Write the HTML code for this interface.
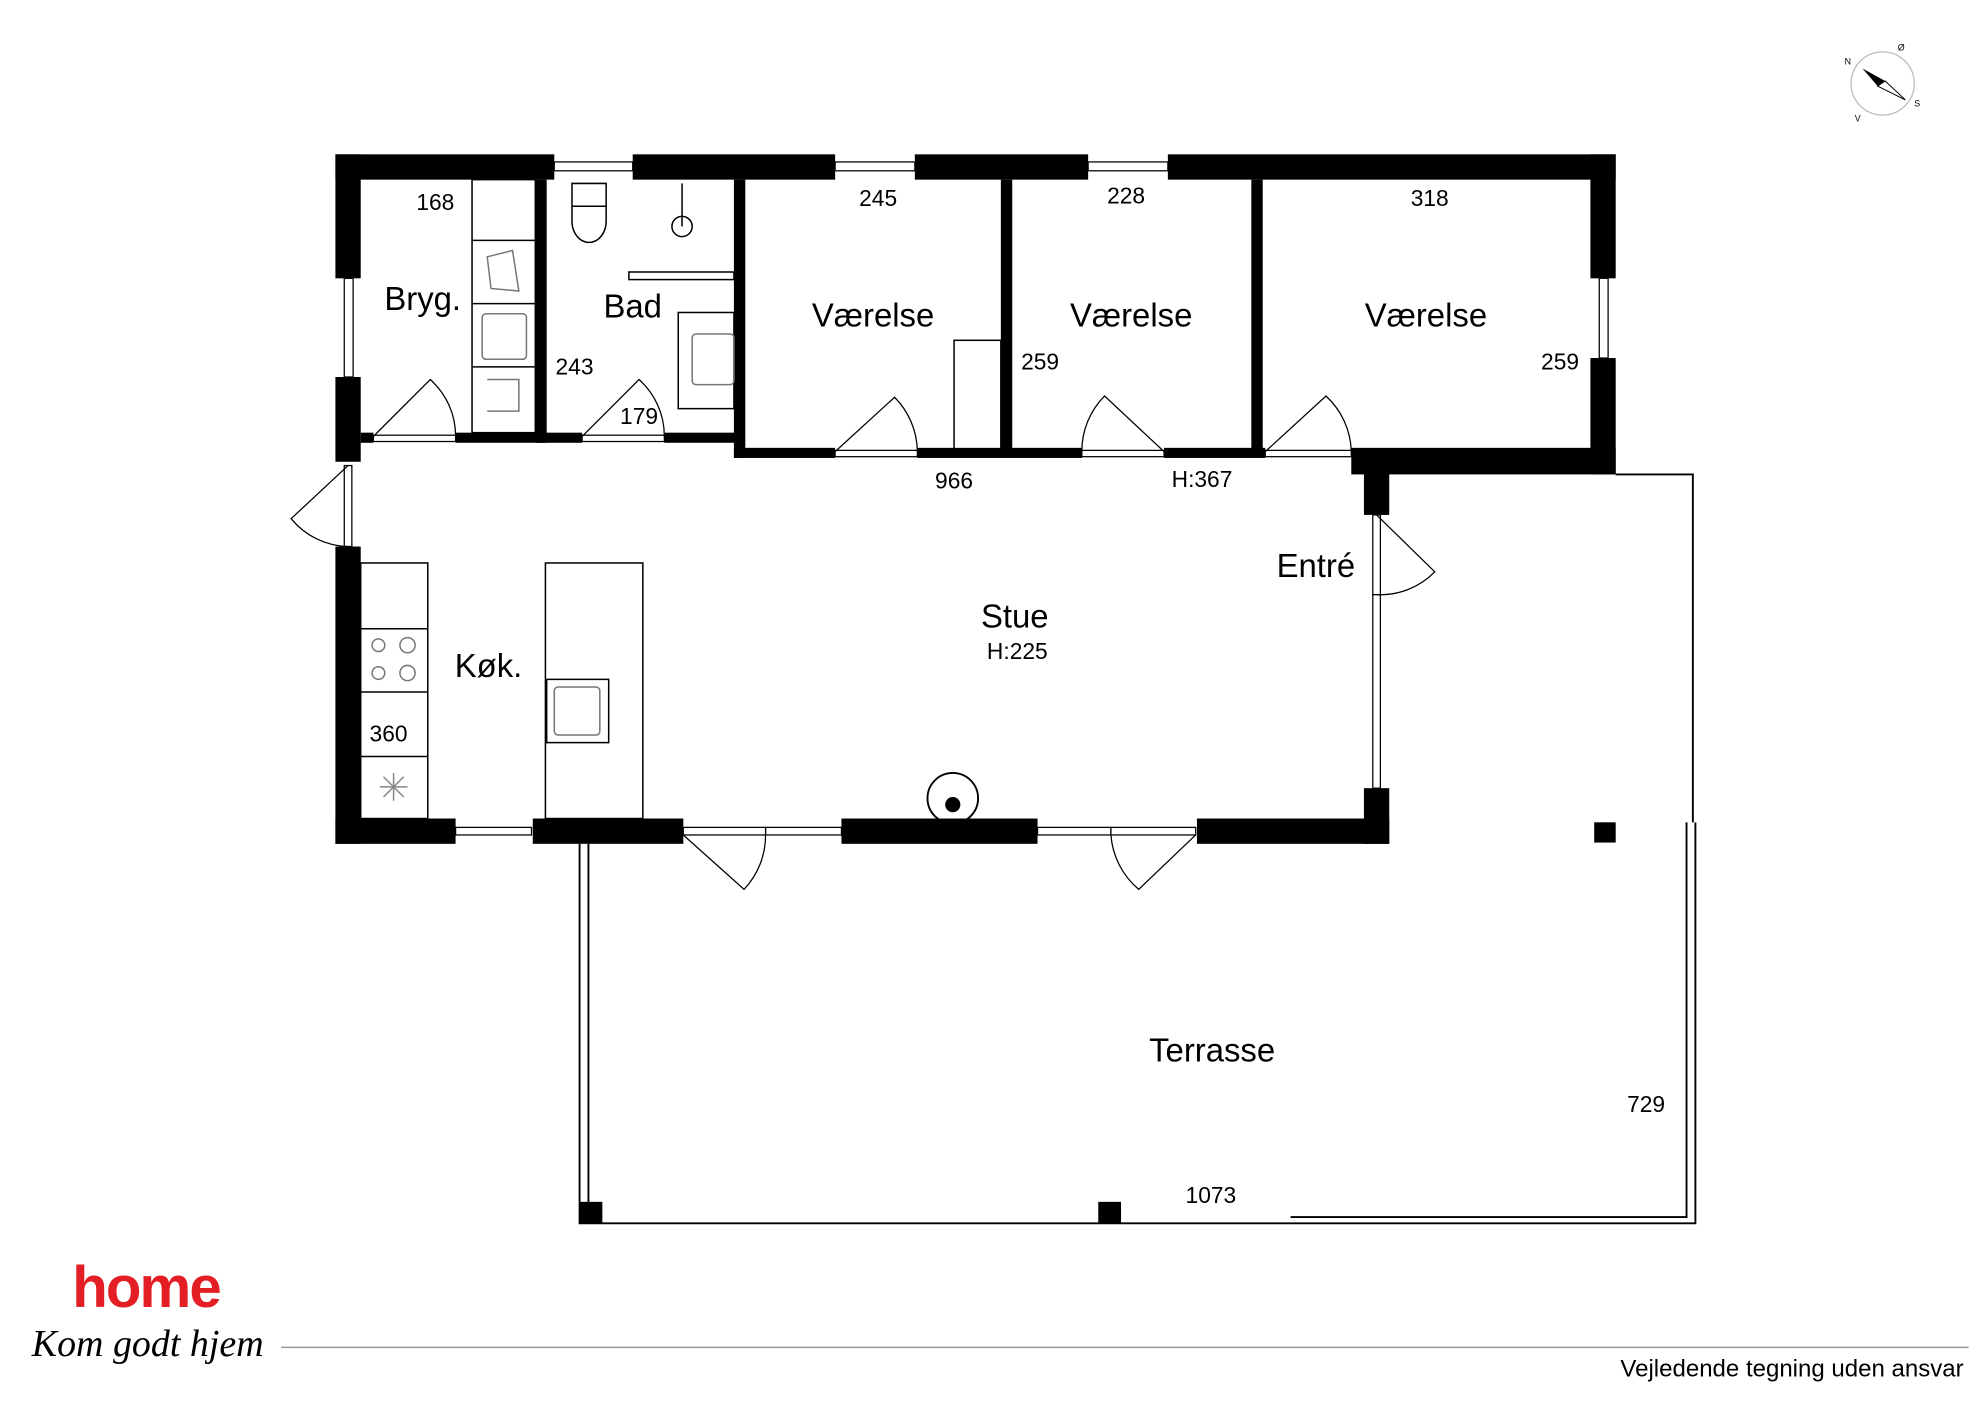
<!DOCTYPE html>
<html><head><meta charset="utf-8"><style>
html,body{margin:0;padding:0;background:#fff;}
svg{display:block;}
text{font-family:"Liberation Sans",sans-serif;fill:#000;}
</style></head><body>
<svg width="1984" height="1403" viewBox="0 0 1568 1109" xmlns="http://www.w3.org/2000/svg">
<rect width="1568" height="1109" fill="#fff"/>
<g fill="#fff" stroke="#000" stroke-width="1">
<rect x="438" y="128" width="62" height="7"/>
<rect x="660" y="128" width="63" height="7"/>
<rect x="860" y="128" width="63" height="7"/>
<rect x="272" y="220" width="7" height="78"/>
<rect x="1264" y="220" width="7" height="63"/>
<rect x="360" y="654" width="60" height="6"/>
<rect x="605" y="654" width="60" height="6"/>
<rect x="820" y="654" width="58" height="6"/>
<rect x="1085" y="470" width="6" height="153"/>
<rect x="295" y="344" width="65" height="5"/>
<rect x="460" y="344" width="65" height="5"/>
<rect x="660" y="356" width="65" height="5"/>
<rect x="855" y="356" width="65" height="5"/>
<rect x="1000" y="356" width="68" height="5"/>
<rect x="540" y="654" width="65" height="6"/>
<rect x="878" y="654" width="67" height="6"/>
<rect x="272" y="368" width="6" height="64"/>
<rect x="1085" y="407" width="6" height="63"/>
</g>
<g fill="#000">
<rect x="265" y="122" width="173" height="20"/>
<rect x="500" y="122" width="160" height="20"/>
<rect x="723" y="122" width="137" height="20"/>
<rect x="923" y="122" width="354" height="20"/>
<rect x="265" y="122" width="20" height="98"/>
<rect x="265" y="298" width="20" height="67"/>
<rect x="1257" y="122" width="20" height="98"/>
<rect x="1257" y="283" width="20" height="92"/>
<rect x="285" y="342" width="10" height="8"/>
<rect x="360" y="342" width="100" height="8"/>
<rect x="525" y="342" width="60" height="8"/>
<rect x="423" y="142" width="9" height="208"/>
<rect x="580" y="142" width="9" height="220"/>
<rect x="791" y="142" width="9" height="213"/>
<rect x="989" y="142" width="9" height="213"/>
<rect x="580" y="354" width="80" height="8"/>
<rect x="725" y="354" width="130" height="8"/>
<rect x="920" y="354" width="80" height="8"/>
<rect x="1068" y="354" width="209" height="21"/>
<rect x="1078" y="362" width="20" height="45"/>
<rect x="1078" y="623" width="20" height="44"/>
<rect x="265" y="432" width="20" height="235"/>
<rect x="265" y="647" width="95" height="20"/>
<rect x="421" y="647" width="119" height="20"/>
<rect x="665" y="647" width="155" height="20"/>
<rect x="946" y="647" width="152" height="20"/>
<rect x="458" y="950" width="18" height="17"/>
<rect x="868" y="950" width="18" height="17"/>
<rect x="1260" y="650" width="17" height="16"/>
</g>
<g fill="none" stroke="#000" stroke-width="1">
<path d="M295 345 L340 300 A60 60 0 0 1 360 345"/>
<path d="M460 345 L505 300 A60 60 0 0 1 525 345"/>
<path d="M660 357 L707 314 A62 62 0 0 1 725 357"/>
<path d="M920 357 L873 313 A62 62 0 0 0 855 357"/>
<path d="M1000 357 L1048 313 A62 62 0 0 1 1068 357"/>
<path d="M275 368 L230 410 A60 60 0 0 0 275 432"/>
<path d="M1088 407 L1134 452 A60 60 0 0 1 1088 470"/>
<path d="M540 660 L588 703 A62 62 0 0 0 605 660"/>
<path d="M945 660 L900 703 A62 62 0 0 1 878 660"/>
</g>
<g fill="none" stroke="#000" stroke-width="1.5">
<path d="M1277 375 H1338 V650"/>
<path d="M458 667 V967 H1340 V650"/>
<path d="M465 667 V962"/>
<path d="M1020 962 H1333 V650"/>
</g>
<g fill="none" stroke="#000" stroke-width="1.2">
<rect x="373" y="142" width="50" height="200"/>
<line x1="373" y1="190" x2="423" y2="190"/>
<line x1="373" y1="240" x2="423" y2="240"/>
<line x1="373" y1="290" x2="423" y2="290"/>
<rect x="381" y="248" width="35" height="36" rx="3" stroke="#777"/>
<path d="M385 203 L405 198 L410 230 L388 228 Z" stroke="#777"/>
<path d="M385 300 L410 300 L410 325 L385 325" stroke="#777"/>
<path d="M452 145 h27 v18 h-27 z M452 163 v12 a13 16 0 0 0 27 0 v-12"/>
<circle cx="539" cy="179" r="8"/>
<line x1="539" y1="145" x2="539" y2="179"/>
<rect x="497" y="215" width="83" height="6"/>
<rect x="536" y="247" width="44" height="76"/>
<rect x="547" y="264" width="33" height="40" rx="3" stroke="#777"/>
<rect x="754" y="269" width="37" height="86"/>
<rect x="285" y="445" width="53" height="202"/>
<line x1="285" y1="497" x2="338" y2="497"/>
<line x1="285" y1="547" x2="338" y2="547"/>
<line x1="285" y1="598" x2="338" y2="598"/>
<circle cx="299" cy="510" r="5" stroke="#777"/><circle cx="322" cy="510" r="6" stroke="#777"/>
<circle cx="299" cy="532" r="5" stroke="#777"/><circle cx="322" cy="532" r="6" stroke="#777"/>
<path d="M300 622 l22 0 M311 611 l0 22 M303 614 l16 16 M319 614 l-16 16" stroke="#888"/>
<rect x="431" y="445" width="77" height="202"/>
<rect x="432" y="537" width="49" height="50"/>
<rect x="438" y="543" width="36" height="38" rx="3" stroke="#777"/>
<circle cx="753" cy="631" r="20" stroke-width="1.5"/>
</g>
<circle cx="753" cy="636" r="6" fill="#000"/>
<g font-size="26" text-anchor="middle">
<text x="334" y="245">Bryg.</text>
<text x="500" y="251">Bad</text>
<text x="690" y="258">Værelse</text>
<text x="894" y="258">Værelse</text>
<text x="1127" y="258">Værelse</text>
<text x="1040" y="456">Entré</text>
<text x="802" y="496">Stue</text>
<text x="386" y="535">Køk.</text>
<text x="958" y="839">Terrasse</text>
</g>
<g font-size="18" text-anchor="middle">
<text x="344" y="166">168</text>
<text x="694" y="163">245</text>
<text x="890" y="161">228</text>
<text x="1130" y="163">318</text>
<text x="454" y="296">243</text>
<text x="505" y="335">179</text>
<text x="822" y="292">259</text>
<text x="1233" y="292">259</text>
<text x="754" y="386">966</text>
<text x="950" y="385">H:367</text>
<text x="804" y="521">H:225</text>
<text x="307" y="586">360</text>
<text x="1301" y="879">729</text>
<text x="957" y="951">1073</text>
</g>
<g>
<circle cx="1488" cy="66" r="25" fill="none" stroke="#bbb" stroke-width="1"/>
<path d="M1472 54 L1490 64 L1484 68 Z" fill="#000"/>
<path d="M1490 64 L1506 79 L1484 68 Z" fill="none" stroke="#000" stroke-width="0.8"/>
<text x="1458" y="51" font-size="7">N</text>
<text x="1500" y="40" font-size="7">Ø</text>
<text x="1513" y="84" font-size="7">S</text>
<text x="1466" y="96" font-size="7">V</text>
</g>
<text x="57" y="1033" font-size="46" font-weight="bold" style="fill:#e31e24" letter-spacing="-1.5">home</text>
<text x="25" y="1072" font-size="30" font-style="italic" style="font-family:'Liberation Serif',serif">Kom godt hjem</text>
<line x1="222" y1="1065" x2="1556" y2="1065" stroke="#999" stroke-width="1.2"/>
<text x="1552" y="1088" font-size="19" text-anchor="end">Vejledende tegning uden ansvar</text>
</svg>
</body></html>
